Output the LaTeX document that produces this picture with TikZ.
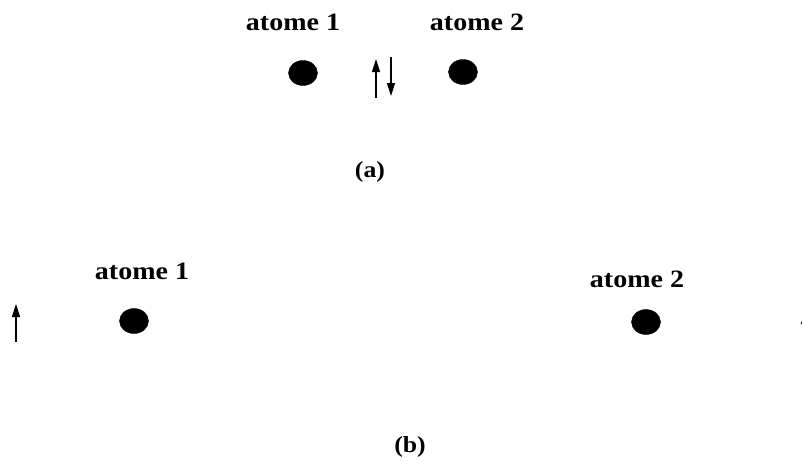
\documentclass[tikz,border=0pt]{standalone}
\usepackage{fontspec}
\setmainfont{Liberation Serif}[FakeStretch=1.12]
\usetikzlibrary{arrows.meta,positioning,shapes.geometric}

\begin{document}
\begin{tikzpicture}[
  x=1pt, y=-1pt,
  atom/.style={draw, fill=black, ellipse, minimum width=29pt, minimum height=25pt, inner sep=0pt},
  lbl/.style={font=\fontsize{25}{28}\selectfont\bfseries, inner sep=0pt},
  partlbl/.style={font=\fontsize{23}{26}\selectfont\bfseries, inner sep=0pt},
  spin/.style={-{Triangle[length=13pt, width=8pt]}, line width=1.4pt},
]
\useasboundingbox (0,0) rectangle (802,461);

% ================= (a) bonded pair =================
\node[atom] (a1) at (303,73) {};
\node[atom] (a2) at (463,72) {};
\node[lbl] (la1) at (293,22) {atome 1};
\node[lbl] (la2) at (477,22) {atome 2};
% paired spins
\coordinate (upa0) at (376,98);
\coordinate (upa1) at (376,59);
\coordinate (dna0) at (391,57);
\coordinate (dna1) at (391,96);
\draw[spin] (upa0) -- (upa1);
\draw[spin] (dna0) -- (dna1);
\node[partlbl] (capa) at (370,172) {(a)};

% ================= (b) separated atoms =================
\node[atom] (b1) at (134,321) {};
\node[atom] (b2) at (646,322) {};
\node[lbl] (lb1) at (142,271) {atome 1};
\node[lbl] (lb2) at (637,279) {atome 2};
% free spins
\coordinate (upb0) at (16,342);
\coordinate (upb1) at (16,304);
\coordinate (upc0) at (805,350);
\coordinate (upc1) at (805,311);
\draw[spin] (upb0) -- (upb1);
\draw[spin] (upc0) -- (upc1);
\node[partlbl] (capb) at (410,447) {(b)};

\end{tikzpicture}
\end{document}
